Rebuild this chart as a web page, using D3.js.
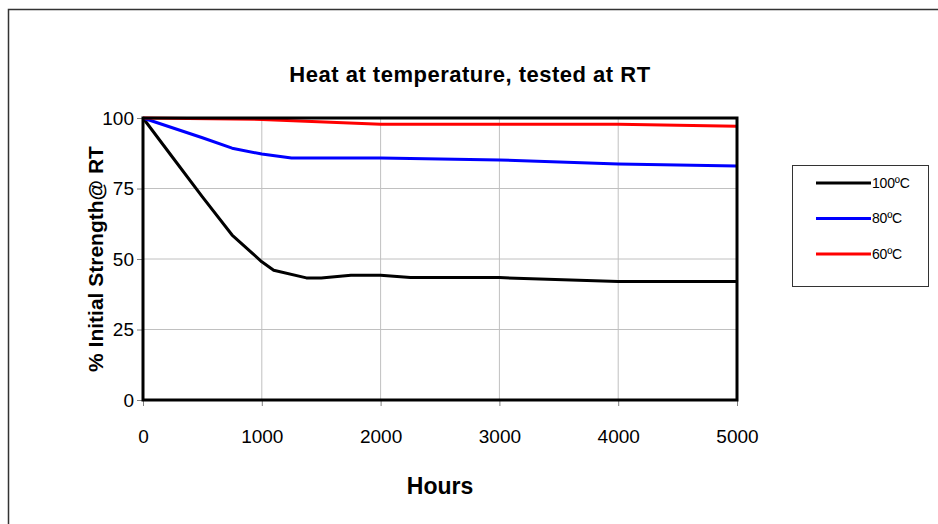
<!DOCTYPE html>
<html lang="en">
<head>
<meta charset="UTF-8">
<title>Heat at temperature, tested at RT</title>
<script src="https://d3js.org/d3.v7.min.js"></script>
<style>
    body { margin: 0; background: #fff; }
    text { font-family: "Liberation Sans", Arial, sans-serif; fill: #000; }
    .grid line { stroke: #c0c0c0; stroke-width: 1px; }
    .axis path { display: none; }
    .axis line { stroke: #808080; }
    .axis text { font-size: 19px; }
    .title { font-size: 22px; font-weight: bold; letter-spacing: 0.5px; }
    .axis-label { font-size: 21px; font-weight: bold; }
    .x-label { font-size: 23px; }
    .series { fill: none; stroke-width: 3px; stroke-linejoin: round; }
    .legend text { font-size: 14px; letter-spacing: -0.2px; }
</style>
</head>
<body>
<svg id="chart"></svg>
<script>
    // data
    const xTicks = [0, 1000, 2000, 3000, 4000, 5000];
    const yTicks = [0, 25, 50, 75, 100];

    const hours100 = [0, 250, 500, 750, 1000, 1100, 1375, 1500, 1750, 2000, 2250, 3000, 4000, 5000];
    const strength100 = [100, 86, 72, 58.5, 49, 46, 43.3, 43.3, 44.2, 44.2, 43.4, 43.4, 42, 42];

    const hours80 = [0, 500, 750, 1000, 1250, 2000, 3000, 4000, 5000];
    const strength80 = [100, 93, 89.3, 87.2, 85.8, 85.8, 85.1, 83.7, 83];

    const hours60 = [0, 1000, 2000, 3000, 4000, 5000];
    const strength60 = [100, 99.5, 97.8, 97.8, 97.8, 97.1];

    const seriesNames = ["100ºC", "80ºC", "60ºC"];
    const seriesColors = ["#000000", "#0000ff", "#ff0000"];

    const series = [
        { name: seriesNames[0], color: seriesColors[0], hours: hours100, values: strength100 },
        { name: seriesNames[1], color: seriesColors[1], hours: hours80, values: strength80 },
        { name: seriesNames[2], color: seriesColors[2], hours: hours60, values: strength60 }
    ];

    const svgWidth = 938, svgHeight = 524;
    const margin = { top: 118, left: 143 };
    const width = 594, height = 282;

    const svg = d3.select("#chart")
        .attr("width", svgWidth)
        .attr("height", svgHeight);

    // outer chart frame (runs off the right and bottom edges)
    svg.append("rect")
        .attr("x", 8.5).attr("y", 9.5)
        .attr("width", 940).attr("height", 530)
        .attr("fill", "none")
        .attr("stroke", "#333")
        .attr("stroke-width", 1.5);

    svg.append("text")
        .attr("class", "title")
        .attr("x", 470)
        .attr("y", 82)
        .attr("text-anchor", "middle")
        .text("Heat at temperature, tested at RT");

    const plot = svg.append("g")
        .attr("transform", "translate(" + margin.left + "," + margin.top + ")");

    const x = d3.scaleLinear().domain([0, 5000]).range([0, width]);
    const y = d3.scaleLinear().domain([0, 100]).range([height, 0]);

    // gridlines
    plot.append("g")
        .attr("class", "grid")
        .selectAll("line")
        .data(xTicks)
        .enter().append("line")
        .attr("x1", d => x(d)).attr("x2", d => x(d))
        .attr("y1", 0).attr("y2", height);

    plot.append("g")
        .attr("class", "grid")
        .selectAll("line")
        .data(yTicks)
        .enter().append("line")
        .attr("x1", 0).attr("x2", width)
        .attr("y1", d => y(d)).attr("y2", d => y(d));

    // axes
    plot.append("g")
        .attr("class", "axis")
        .attr("transform", "translate(0," + height + ")")
        .call(d3.axisBottom(x).tickValues(xTicks).tickSize(6).tickPadding(24).tickFormat(d3.format("d")));

    plot.append("g")
        .attr("class", "axis")
        .call(d3.axisLeft(y).tickValues(yTicks).tickSize(6).tickPadding(3));

    // series lines
    const line = d3.line()
        .x(d => x(d[0]))
        .y(d => y(d[1]));

    plot.selectAll(".series")
        .data(series)
        .enter().append("path")
        .attr("class", "series")
        .attr("stroke", d => d.color)
        .attr("d", d => line(d.hours.map((h, i) => [h, d.values[i]])));

    // plot frame
    plot.append("rect")
        .attr("x", 0).attr("y", 0)
        .attr("width", width).attr("height", height)
        .attr("fill", "none")
        .attr("stroke", "#000")
        .attr("stroke-width", 3);

    // axis labels
    svg.append("text")
        .attr("class", "axis-label x-label")
        .attr("x", margin.left + width / 2)
        .attr("y", 494)
        .attr("text-anchor", "middle")
        .text("Hours");

    svg.append("text")
        .attr("class", "axis-label")
        .attr("transform", "translate(" + 103 + "," + (margin.top + height / 2) + ") rotate(-90)")
        .attr("text-anchor", "middle")
        .text("% Initial Strength@ RT");

    // legend
    const legend = svg.append("g")
        .attr("class", "legend")
        .attr("transform", "translate(792,165)");

    legend.append("rect")
        .attr("x", 0.5).attr("y", 0.5)
        .attr("width", 136).attr("height", 121)
        .attr("fill", "#fff")
        .attr("stroke", "#333")
        .attr("stroke-width", 1);

    const item = legend.selectAll(".item")
        .data(series)
        .enter().append("g")
        .attr("class", "item")
        .attr("transform", (d, i) => "translate(0," + (18 + i * 35.5) + ")");

    item.append("line")
        .attr("x1", 24).attr("x2", 79)
        .attr("stroke", d => d.color)
        .attr("stroke-width", 3);

    item.append("text")
        .attr("x", 80)
        .attr("dy", "0.35em")
        .text(d => d.name);
</script>
</body>
</html>
